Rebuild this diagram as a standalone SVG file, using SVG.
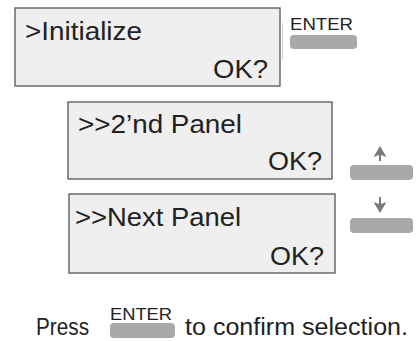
<svg xmlns="http://www.w3.org/2000/svg" width="417" height="341" viewBox="0 0 417 341">
<defs>
<style>
.panel{fill:#efefef;stroke:#555;stroke-width:1.3}
.t{font-family:"Liberation Sans",Arial,sans-serif;fill:#222}
.big{font-size:26px}
.small{font-size:17px}
.foot{font-size:23px}
.btn{fill:#a9a9a9}
.arrow{fill:#7a7a7a}
</style>
<filter id="blur" x="-10%" y="-30%" width="120%" height="160%"><feGaussianBlur stdDeviation="0.6"/></filter>
</defs>
<rect width="417" height="341" fill="#fff"/>
<g id="panel1">
<rect class="panel" x="15" y="8" width="265" height="78"/>
<text class="t big" x="25" y="40" textLength="117" lengthAdjust="spacingAndGlyphs">&gt;Initialize</text>
<text class="t big" x="213" y="78" textLength="55" lengthAdjust="spacingAndGlyphs">OK?</text>
<line x1="282.5" y1="23" x2="282.5" y2="60" stroke="#ccc" stroke-width="1"/>
</g>
<g id="enter-top">
<text class="t small" x="290" y="30" textLength="63" lengthAdjust="spacingAndGlyphs">ENTER</text>
<rect class="btn" x="290" y="35" width="67" height="14" rx="4" filter="url(#blur)"/>
</g>
<g id="panel2">
<rect class="panel" x="68" y="102" width="264" height="77"/>
<text class="t big" x="78" y="133" textLength="164" lengthAdjust="spacingAndGlyphs">&gt;&gt;2’nd Panel</text>
<text class="t big" x="268" y="170" textLength="54" lengthAdjust="spacingAndGlyphs">OK?</text>
</g>
<g id="panel3">
<rect class="panel" x="69" y="194" width="266" height="79"/>
<text class="t big" x="75" y="226" textLength="166" lengthAdjust="spacingAndGlyphs">&gt;&gt;Next Panel</text>
<text class="t big" x="270" y="265" textLength="54" lengthAdjust="spacingAndGlyphs">OK?</text>
</g>
<g id="btn-up">
<path class="arrow" d="M380 146 L386.5 157 L381 155 L381 161 L379 161 L379 155 L373.5 157 Z"/>
<rect class="btn" x="350" y="165" width="63" height="15" rx="4" filter="url(#blur)"/>
</g>
<g id="btn-down">
<path class="arrow" d="M380 213 L386.5 202 L381 204 L381 197 L379 197 L379 204 L373.5 202 Z"/>
<rect class="btn" x="350" y="218" width="63" height="15" rx="4" filter="url(#blur)"/>
</g>
<g id="footer">
<text class="t foot" x="36" y="335" textLength="53" lengthAdjust="spacingAndGlyphs">Press</text>
<text class="t small" x="110" y="320" textLength="62" lengthAdjust="spacingAndGlyphs">ENTER</text>
<rect class="btn" x="110" y="323" width="65" height="15" rx="4" filter="url(#blur)"/>
<text class="t foot" x="185" y="335" textLength="223" lengthAdjust="spacingAndGlyphs">to confirm selection.</text>
</g>
</svg>
